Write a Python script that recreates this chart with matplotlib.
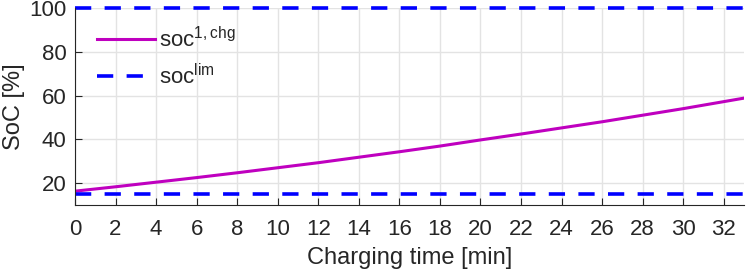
import numpy as np
import matplotlib
matplotlib.use("Agg")
import matplotlib.pyplot as plt

#  Charging profile
t_min = [0, 2, 4, 6, 8, 10, 12, 14, 16, 18, 20, 22, 24, 26, 28, 30, 32, 33]
soc_chg = [16.3, 18.3, 20.4, 22.5, 24.7, 27.0, 29.3, 31.8, 34.3, 36.9,
           39.7, 42.4, 45.2, 48.0, 51.0, 54.0, 57.2, 58.8]
soc_lim = [15, 100]

xticks = np.arange(0, 33, 2)
yticks = [20, 40, 60, 80, 100]

plt.rcParams['font.family'] = ['Liberation Sans', 'DejaVu Sans']
plt.rcParams['mathtext.default'] = 'regular'
txt = '#262626'

fig = plt.figure(figsize=(7.47, 2.74), dpi=100)
ax = fig.add_axes([0.1004, 0.252, 0.8956, 0.719])

ax.plot(t_min, soc_chg, color='#BF00BF', linewidth=2.2, label=r'soc$^{1,chg}$')
for i, v in enumerate(soc_lim):
    ax.axhline(v, color='#0000FF', linewidth=2.6, linestyle=(0, (4.5, 3.7)),
               clip_on=False, label=r'soc$^{lim}$' if i == 0 else None)

ax.set_xlim(0, 33)
ax.set_ylim(10, 100)
ax.set_xticks(xticks)
ax.set_yticks(yticks)
ax.grid(True, color='#E3E3E3', linewidth=1)
ax.set_axisbelow(True)
for s in ['top', 'right']:
    ax.spines[s].set_visible(False)
for s in ['left', 'bottom']:
    ax.spines[s].set_color(txt)
    ax.spines[s].set_linewidth(0.8)
ax.tick_params(direction='in', length=5, width=0.8, colors=txt, labelsize=16)
ax.tick_params(axis='x', pad=10)
ax.tick_params(axis='y', pad=6)

ax.set_xlabel("Charging time [min]", fontsize=17, color=txt, labelpad=5)
ax.set_ylabel("SoC [%]", fontsize=17, color=txt, labelpad=3)

leg = ax.legend(loc='upper left', bbox_to_anchor=(0.003, 1.005), frameon=False,
                fontsize=16, handlelength=2.6, handletextpad=0.2, labelspacing=0.52)
for t in leg.get_texts():
    t.set_color(txt)

plt.savefig("out.png", dpi=100)
plt.close()
